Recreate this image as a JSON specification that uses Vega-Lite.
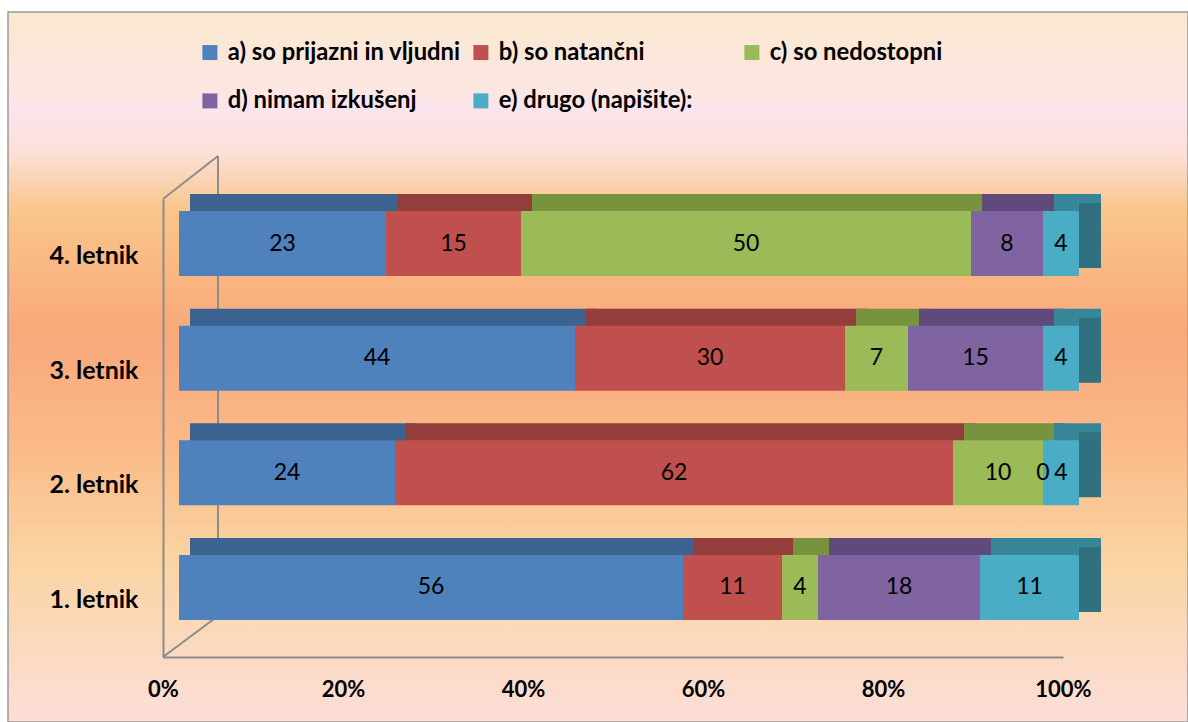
{
  "$schema": "https://vega.github.io/schema/vega-lite/v6.json",
  "width": 1180,
  "height": 710,
  "autosize": "none",
  "padding": {"left": 8, "top": 12, "right": 0, "bottom": 0},
  "background": "white",
  "config": {"view": {"stroke": null}, "font": "Lato"},
  "datasets": {
    "survey": [
      {"year": "4. letnik", "cat": "a) so prijazni in vljudni", "value": 23},
      {"year": "4. letnik", "cat": "b) so natančni", "value": 15},
      {"year": "4. letnik", "cat": "c) so nedostopni", "value": 50},
      {"year": "4. letnik", "cat": "d) nimam izkušenj", "value": 8},
      {"year": "4. letnik", "cat": "e) drugo (napišite):", "value": 4},
      {"year": "3. letnik", "cat": "a) so prijazni in vljudni", "value": 44},
      {"year": "3. letnik", "cat": "b) so natančni", "value": 30},
      {"year": "3. letnik", "cat": "c) so nedostopni", "value": 7},
      {"year": "3. letnik", "cat": "d) nimam izkušenj", "value": 15},
      {"year": "3. letnik", "cat": "e) drugo (napišite):", "value": 4},
      {"year": "2. letnik", "cat": "a) so prijazni in vljudni", "value": 24},
      {"year": "2. letnik", "cat": "b) so natančni", "value": 62},
      {"year": "2. letnik", "cat": "c) so nedostopni", "value": 10},
      {"year": "2. letnik", "cat": "d) nimam izkušenj", "value": 0},
      {"year": "2. letnik", "cat": "e) drugo (napišite):", "value": 4},
      {"year": "1. letnik", "cat": "a) so prijazni in vljudni", "value": 56},
      {"year": "1. letnik", "cat": "b) so natančni", "value": 11},
      {"year": "1. letnik", "cat": "c) so nedostopni", "value": 4},
      {"year": "1. letnik", "cat": "d) nimam izkušenj", "value": 18},
      {"year": "1. letnik", "cat": "e) drugo (napišite):", "value": 11}
    ]
  },
  "resolve": {"scale": {"color": "independent"}},
  "layer": [
    {
      "data": {"values": [{}]},
      "mark": {
        "type": "rect",
        "stroke": "#9a9a9a",
        "strokeWidth": 1.5,
        "fill": {
          "gradient": "linear", "x1": 0, "y1": 0, "x2": 0, "y2": 1,
          "stops": [
            {"offset": 0, "color": "#FAE8CE"},
            {"offset": 0.12, "color": "#FCE6E4"},
            {"offset": 0.135, "color": "#FCE4EE"},
            {"offset": 0.2, "color": "#FCDFD6"},
            {"offset": 0.28, "color": "#F9C68A"},
            {"offset": 0.45, "color": "#F9A87A"},
            {"offset": 0.6, "color": "#FAB886"},
            {"offset": 0.77, "color": "#FAD4A2"},
            {"offset": 1, "color": "#FCDED8"}
          ]
        }
      }
    },
    {
      "data": {"values": [{}]},
      "mark": {"type": "rule", "color": "#8c8c8c", "strokeWidth": 2, "xOffset": 55, "yOffset": -100, "y2Offset": 16},
      "encoding": {
        "x": {"datum": 0, "type": "quantitative", "title": null,
              "scale": {"domain": [0, 100], "range": [155, 1055], "nice": false, "zero": false},
              "axis": {"values": [0, 20, 40, 60, 80, 100], "labelExpr": "datum.value + '%'", "offset": -65, "grid": false, "ticks": false, "tickSize": 0, "domainColor": "#8c8c8c", "domainWidth": 2, "labelFont": "Lato", "labelFontSize": 22, "labelFontWeight": "bold", "labelColor": "#000", "labelPadding": 22, "labelFlush": false, "labelOverlap": false, "title": null, "zindex": 1}},
        "y": {"datum": "4. letnik", "type": "nominal", "title": null,
              "scale": {"domain": ["4. letnik", "3. letnik", "2. letnik", "1. letnik"], "range": [187, 645], "paddingInner": 0.433, "paddingOuter": 0.2136},
              "axis": {"offset": -155, "grid": false, "ticks": false, "tickSize": 0, "domainColor": "#8c8c8c", "domainWidth": 2, "labelFont": "Lato", "labelFontSize": 25, "labelFontWeight": "bold", "labelColor": "#000", "labelPadding": 25, "title": null, "zindex": 1}},
        "y2": {"datum": "1. letnik"}
      }
    },
    {
      "data": {"values": [{}]},
      "mark": {"type": "rule", "color": "#8c8c8c", "strokeWidth": 2, "x2Offset": 55, "yOffset": -57, "y2Offset": -100},
      "encoding": {
        "x": {"datum": 0, "type": "quantitative", "title": null},
        "x2": {"datum": 0},
        "y": {"datum": "4. letnik", "type": "nominal", "title": null},
        "y2": {"datum": "4. letnik"}
      }
    },
    {
      "data": {"values": [{}]},
      "mark": {"type": "rule", "color": "#8c8c8c", "strokeWidth": 2, "x2Offset": 55, "yOffset": 57, "y2Offset": 16},
      "encoding": {
        "x": {"datum": 0, "type": "quantitative", "title": null},
        "x2": {"datum": 0},
        "y": {"datum": "1. letnik", "type": "nominal", "title": null},
        "y2": {"datum": "1. letnik"}
      }
    },
    {
      "data": {"name": "survey"},
      "transform": [
        {"stack": "value", "groupby": ["year"], "sort": [{"field": "cat", "order": "ascending"}], "as": ["v0", "v1"]}
      ],
      "mark": {"type": "bar", "xOffset": 27, "x2Offset": 38, "yOffset": -29.5, "y2Offset": -29.5},
      "encoding": {
        "x": {"field": "v0", "type": "quantitative", "title": null},
        "x2": {"field": "v1"},
        "y": {"field": "year", "type": "nominal", "title": null},
        "color": {"field": "cat", "type": "nominal", "legend": null,
                  "scale": {"domain": ["a) so prijazni in vljudni", "b) so natančni", "c) so nedostopni", "d) nimam izkušenj", "e) drugo (napišite):"],
                            "range": ["#3C6390", "#943E3C", "#77933D", "#604A7C", "#37869A"]}}
      }
    },
    {
      "data": {"name": "survey"},
      "transform": [
        {"stack": "value", "groupby": ["year"], "sort": [{"field": "cat", "order": "ascending"}], "as": ["v0", "v1"]},
        {"filter": "datum.cat == 'e) drugo (napišite):'"}
      ],
      "mark": {"type": "bar", "color": "#31707F", "xOffset": 16, "x2Offset": 38, "yOffset": -20.5, "y2Offset": -20.5},
      "encoding": {
        "x": {"field": "v1", "type": "quantitative", "title": null},
        "x2": {"field": "v1"},
        "y": {"field": "year", "type": "nominal", "title": null}
      }
    },
    {
      "data": {"name": "survey"},
      "transform": [
        {"stack": "value", "groupby": ["year"], "sort": [{"field": "cat", "order": "ascending"}], "as": ["v0", "v1"]}
      ],
      "mark": {"type": "bar", "xOffset": 16, "x2Offset": 16, "yOffset": -12.5, "y2Offset": -12.5},
      "encoding": {
        "x": {"field": "v0", "type": "quantitative", "title": null},
        "x2": {"field": "v1"},
        "y": {"field": "year", "type": "nominal", "title": null},
        "color": {"field": "cat", "type": "nominal",
                  "scale": {"domain": ["a) so prijazni in vljudni", "b) so natančni", "c) so nedostopni", "d) nimam izkušenj", "e) drugo (napišite):"],
                            "range": ["#4F81BD", "#C0504D", "#9BBB59", "#8064A2", "#4BACC6"]},
                  "legend": {"orient": "none", "legendX": 190, "legendY": 28.5, "direction": "horizontal", "columns": 3, "gridAlign": "all",
                             "symbolType": "square", "symbolSize": 225, "symbolStrokeWidth": 0, "symbolOpacity": 1,
                             "labelFont": "Lato", "labelFontSize": 23.8, "labelFontWeight": "bold", "labelColor": "#000",
                             "labelOffset": 6, "columnPadding": 8, "rowPadding": 23.5, "labelLimit": 400, "title": null, "padding": 0, "zindex": 1}}
      }
    },
    {
      "data": {"name": "survey"},
      "transform": [
        {"stack": "value", "groupby": ["year"], "sort": [{"field": "cat", "order": "ascending"}], "as": ["v0", "v1"]},
        {"calculate": "(datum.v0 + datum.v1) / 2", "as": "mid"}
      ],
      "mark": {"type": "text", "font": "Lato", "fontSize": 23, "color": "#000", "xOffset": 16, "yOffset": -12.5},
      "encoding": {
        "x": {"field": "mid", "type": "quantitative", "title": null},
        "y": {"field": "year", "type": "nominal", "title": null},
        "text": {"field": "value", "type": "quantitative"}
      }
    }
  ]
}
